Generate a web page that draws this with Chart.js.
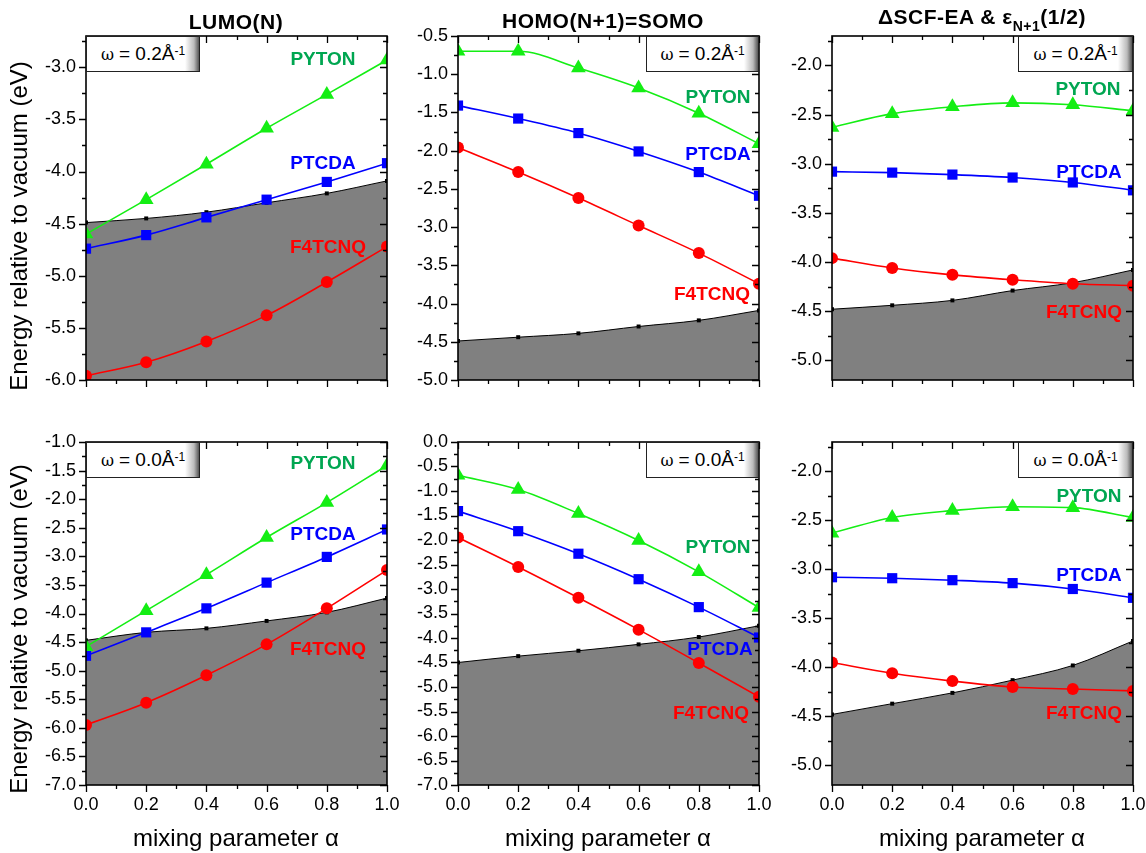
<!DOCTYPE html>
<html><head><meta charset="utf-8">
<script src="https://cdn.jsdelivr.net/npm/chart.js@4/dist/chart.umd.min.js"></script>
<style>
html,body{margin:0;padding:0;background:#fff;}
body{width:1146px;height:853px;position:relative;overflow:hidden;font-family:"Liberation Sans",Arial,sans-serif;color:#000;}
canvas{position:absolute;}
.t{position:absolute;white-space:nowrap;transform:translate(-50%,-50%);z-index:5;line-height:1;}
.title{font-weight:bold;font-size:21px;letter-spacing:0.5px;}
.lab{font-weight:bold;font-size:19px;}
.ytitle{font-size:24px;transform:translate(-50%,-50%) rotate(-90deg);}
.xtitle{font-size:24px;}
.box{position:absolute;z-index:4;box-sizing:border-box;border:1px solid #222;
 background:linear-gradient(to right,#fff 0,#fff calc(100% - 14px),#bbb calc(100% - 5px),#555 100%);
 font-size:19px;display:flex;align-items:center;justify-content:center;}
.box sup{font-size:12px;position:relative;top:-3px;}
.om{font-family:"DejaVu Serif",serif;font-size:16px;margin-right:5px;}
</style></head><body>
<script>
// ---------- DATA ----------
const alpha = [0.0, 0.2, 0.4, 0.6, 0.8, 1.0];
const xTicks = [0.0, 0.2, 0.4, 0.6, 0.8, 1.0];

// LUMO(N), omega = 0.2
const lumo02_PYTON  = [-4.60, -4.27, -3.93, -3.585, -3.26, -2.93];
const lumo02_PTCDA  = [-4.74, -4.61, -4.44, -4.27, -4.10, -3.92];
const lumo02_F4TCNQ = [-5.96, -5.83, -5.63, -5.38, -5.06, -4.72];
const lumo02_ref    = [-4.49, -4.45, -4.39, -4.30, -4.21, -4.09];
// HOMO(N+1)=SOMO, omega = 0.2
const homo02_PYTON  = [-0.70, -0.70, -0.92, -1.18, -1.51, -1.91];
const homo02_PTCDA  = [-1.41, -1.58, -1.77, -2.01, -2.28, -2.59];
const homo02_F4TCNQ = [-1.96, -2.28, -2.62, -2.98, -3.34, -3.74];
const homo02_ref    = [-4.49, -4.44, -4.39, -4.30, -4.22, -4.09];
// dSCF-EA, omega = 0.2
const scf02_PYTON   = [-2.63, -2.49, -2.42, -2.38, -2.40, -2.46];
const scf02_PTCDA   = [-3.08, -3.09, -3.11, -3.14, -3.19, -3.27];
const scf02_F4TCNQ  = [-3.96, -4.06, -4.13, -4.18, -4.22, -4.24];
const scf02_ref     = [-4.48, -4.44, -4.39, -4.29, -4.21, -4.08];
// LUMO(N), omega = 0.0
const lumo00_PYTON  = [-4.58, -3.95, -3.32, -2.67, -2.06, -1.41];
const lumo00_PTCDA  = [-4.74, -4.33, -3.91, -3.46, -3.01, -2.53];
const lumo00_F4TCNQ = [-5.95, -5.56, -5.08, -4.54, -3.91, -3.24];
const lumo00_ref    = [-4.47, -4.33, -4.26, -4.13, -3.98, -3.73];
// HOMO(N+1)=SOMO, omega = 0.0
const homo00_PYTON  = [-0.68, -0.97, -1.46, -2.01, -2.65, -3.38];
const homo00_PTCDA  = [-1.41, -1.82, -2.28, -2.80, -3.37, -3.99];
const homo00_F4TCNQ = [-1.95, -2.55, -3.18, -3.83, -4.51, -5.20];
const homo00_ref    = [-4.50, -4.37, -4.26, -4.13, -3.98, -3.75];
// dSCF-EA, omega = 0.0
const scf00_PYTON   = [-2.63, -2.47, -2.40, -2.36, -2.37, -2.47];
const scf00_PTCDA   = [-3.08, -3.09, -3.11, -3.14, -3.20, -3.29];
const scf00_F4TCNQ  = [-3.95, -4.06, -4.14, -4.20, -4.22, -4.24];
const scf00_ref     = [-4.48, -4.37, -4.26, -4.13, -3.98, -3.73];

// y tick labels
const yTicksLumo02 = [-6.0, -5.5, -5.0, -4.5, -4.0, -3.5, -3.0];
const yTicksHomo02 = [-5.0, -4.5, -4.0, -3.5, -3.0, -2.5, -2.0, -1.5, -1.0, -0.5];
const yTicksScf    = [-5.0, -4.5, -4.0, -3.5, -3.0, -2.5, -2.0];
const yTicksLumo00 = [-7.0, -6.5, -6.0, -5.5, -5.0, -4.5, -4.0, -3.5, -3.0, -2.5, -2.0, -1.5, -1.0];
const yTicksHomo00 = [-7.0, -6.5, -6.0, -5.5, -5.0, -4.5, -4.0, -3.5, -3.0, -2.5, -2.0, -1.5, -1.0, -0.5, 0.0];

// ---------- STYLE / LAYOUT ----------
const GREEN = '#14ee14', BLUE = '#0000ff', RED = '#ff0000';
Chart.defaults.font.family = '"Liberation Sans", Arial, sans-serif';
Chart.defaults.font.size = 18;
Chart.defaults.color = '#000';

const YW = 70, PADT = 14, PADR = 22, PW = 301;
const panels = [
  {L:86,  T:36,  H:344, min:-6.0, max:-2.7, yt:yTicksLumo02, xl:false, d:[lumo02_PYTON,lumo02_PTCDA,lumo02_F4TCNQ,lumo02_ref]},
  {L:458, T:36,  H:344, min:-5.0, max:-0.5, yt:yTicksHomo02, xl:false, d:[homo02_PYTON,homo02_PTCDA,homo02_F4TCNQ,homo02_ref]},
  {L:832, T:36,  H:344, min:-5.2, max:-1.7, yt:yTicksScf,    xl:false, d:[scf02_PYTON,scf02_PTCDA,scf02_F4TCNQ,scf02_ref]},
  {L:86,  T:442, H:343, min:-7.0, max:-1.0, yt:yTicksLumo00, xl:true,  d:[lumo00_PYTON,lumo00_PTCDA,lumo00_F4TCNQ,lumo00_ref]},
  {L:458, T:442, H:343, min:-7.0, max:0.0,  yt:yTicksHomo00, xl:true,  d:[homo00_PYTON,homo00_PTCDA,homo00_F4TCNQ,homo00_ref]},
  {L:832, T:442, H:343, min:-5.2, max:-1.7, yt:yTicksScf,    xl:true,  d:[scf00_PYTON,scf00_PTCDA,scf00_F4TCNQ,scf00_ref]},
];

const frameTicks = {
  id: 'frameTicks',
  afterDatasetsDraw(chart, args, opts) {
    const {ctx, chartArea: a} = chart;
    const xs = chart.scales.x, ys = chart.scales.y;
    const xMaj = opts.xMajor, yMaj = opts.yMajor;
    const xMin = [], yMin = [];
    for (let i = 0; i < xMaj.length - 1; i++) xMin.push((xMaj[i] + xMaj[i+1]) / 2);
    const ys0 = yMaj[1] - yMaj[0];
    [yMaj[0] - ys0/2].concat(yMaj.map(v => v + ys0/2)).forEach(v => { if (v > ys.min + 1e-6 && v < ys.max - 1e-6) yMin.push(v); });
    ctx.save();
    ctx.strokeStyle = '#000';
    ctx.lineWidth = 1.3;
    ctx.beginPath();
    const hx = (v, len) => { const p = Math.round(xs.getPixelForValue(v)) + 0.5;
      ctx.moveTo(p, a.bottom); ctx.lineTo(p, a.bottom + len);
      ctx.moveTo(p, a.top); ctx.lineTo(p, a.top + len); };
    const hy = (v, len) => { const p = Math.round(ys.getPixelForValue(v)) + 0.5;
      ctx.moveTo(a.left, p); ctx.lineTo(a.left - len, p);
      ctx.moveTo(a.right, p); ctx.lineTo(a.right - len, p); };
    xMaj.forEach(v => hx(v, 7)); xMin.forEach(v => hx(v, 4));
    yMaj.forEach(v => { if (v >= ys.min - 1e-6 && v <= ys.max + 1e-6) hy(v, 7); }); yMin.forEach(v => hy(v, 4));
    ctx.stroke();
    ctx.lineWidth = 1.6;
    ctx.strokeRect(a.left, a.top, a.right - a.left, a.bottom - a.top);
    ctx.restore();
  }
};

function series(data, color, shape, r) {
  return {data: data.map((v, i) => ({x: alpha[i], y: v})), borderColor: color, backgroundColor: color,
    pointBackgroundColor: color, pointBorderColor: color, pointStyle: shape, pointRadius: r, pointBorderWidth: 0,
    borderWidth: 1.6, cubicInterpolationMode: 'monotone', fill: false, clip: 0};
}

panels.forEach((p, k) => {
  const xh = p.xl ? 40 : 12;
  const c = document.createElement('canvas');
  c.width = YW + PW + PADR; c.height = PADT + p.H + xh;
  c.style.left = (p.L - YW) + 'px'; c.style.top = (p.T - PADT) + 'px';
  document.body.appendChild(c);
  const ref = series(p.d[3], '#000', 'rect', 2.8);
  ref.fill = 'start'; ref.backgroundColor = '#808080'; ref.borderWidth = 1; ref.pointBackgroundColor = '#000';
  new Chart(c, {
    type: 'line',
    data: {datasets: [
      series(p.d[0], GREEN, 'triangle', 8.5),
      series(p.d[1], BLUE, 'rect', 7.2),
      series(p.d[2], RED, 'circle', 6),
      ref
    ]},
    options: {
      responsive: false, animation: false, events: [],
      layout: {padding: {left: 0, top: PADT, right: PADR, bottom: 0}},
      plugins: {legend: {display: false}, tooltip: {enabled: false},
        frameTicks: {xMajor: xTicks, yMajor: p.yt}},
      scales: {
        x: {type: 'linear', min: 0, max: 1, position: 'bottom',
          grid: {display: false, drawTicks: false}, border: {display: false},
          ticks: {display: p.xl, padding: 9, autoSkip: false, maxRotation: 0, callback: v => Number(v).toFixed(1)},
          afterBuildTicks: s => { s.ticks = xTicks.map(v => ({value: v})); },
          afterFit: s => { s.height = xh; s.paddingLeft = 0; s.paddingRight = 0; }},
        y: {type: 'linear', min: p.min, max: p.max,
          grid: {display: false, drawTicks: false}, border: {display: false},
          ticks: {padding: 10, autoSkip: false, callback: v => Number(v).toFixed(1)},
          afterBuildTicks: s => { s.ticks = p.yt.map(v => ({value: v})); },
          afterFit: s => { s.width = YW; s.paddingTop = 0; s.paddingBottom = 0; }}
      }
    },
    plugins: [frameTicks]
  });
});

// ---------- TEXT ----------
function txt(cls, x, y, html, color) {
  const d = document.createElement('div');
  d.className = 't ' + cls; d.style.left = x + 'px'; d.style.top = y + 'px';
  if (color) d.style.color = color;
  d.innerHTML = html; document.body.appendChild(d);
}
function box(x1, y1, x2, y2, val) {
  const d = document.createElement('div');
  d.className = 'box';
  d.style.left = x1 + 'px'; d.style.top = y1 + 'px';
  d.style.width = (x2 - x1) + 'px'; d.style.height = (y2 - y1) + 'px';
  d.innerHTML = '<span class="om">ω</span>= ' + val + 'Å<sup>-1</sup>';
  document.body.appendChild(d);
}
txt('title', 236, 21, 'LUMO(N)');
txt('title', 603, 20, 'HOMO(N+1)=SOMO');
txt('title', 982, 19, 'ΔSCF-EA &amp; ε<sub style="font-size:14px;position:relative;top:2px">N+1</sub>(1/2)');
txt('ytitle', 19, 226, 'Energy relative to vacuum (eV)');
txt('ytitle', 19, 629, 'Energy relative to vacuum (eV)');
txt('xtitle', 236, 838, 'mixing parameter α');
txt('xtitle', 608, 838, 'mixing parameter α');
txt('xtitle', 982, 838, 'mixing parameter α');

box(86, 36, 200, 72, '0.2');
box(646, 36, 759, 72, '0.2');
box(1018, 36, 1133, 72, '0.2');
box(86, 442, 200, 478, '0.0');
box(646, 442, 759, 478, '0.0');
box(1018, 442, 1133, 478, '0.0');

const GTXT = '#00a651';
const labels = [
  [323, 58, 'PYTON', GTXT], [323, 162, 'PTCDA', BLUE], [328, 246, 'F4TCNQ', RED],
  [718, 96, 'PYTON', GTXT], [718, 153, 'PTCDA', BLUE], [712, 293, 'F4TCNQ', RED],
  [1088, 88, 'PYTON', GTXT], [1089, 171, 'PTCDA', BLUE], [1084, 311, 'F4TCNQ', RED],
  [323, 462, 'PYTON', GTXT], [323, 533, 'PTCDA', BLUE], [328, 648, 'F4TCNQ', RED],
  [718, 546, 'PYTON', GTXT], [720, 648, 'PTCDA', BLUE], [711, 712, 'F4TCNQ', RED],
  [1089, 495, 'PYTON', GTXT], [1089, 574, 'PTCDA', BLUE], [1084, 712, 'F4TCNQ', RED],
];
labels.forEach(l => txt('lab', l[0], l[1], l[2], l[3]));
</script>
</body></html>
